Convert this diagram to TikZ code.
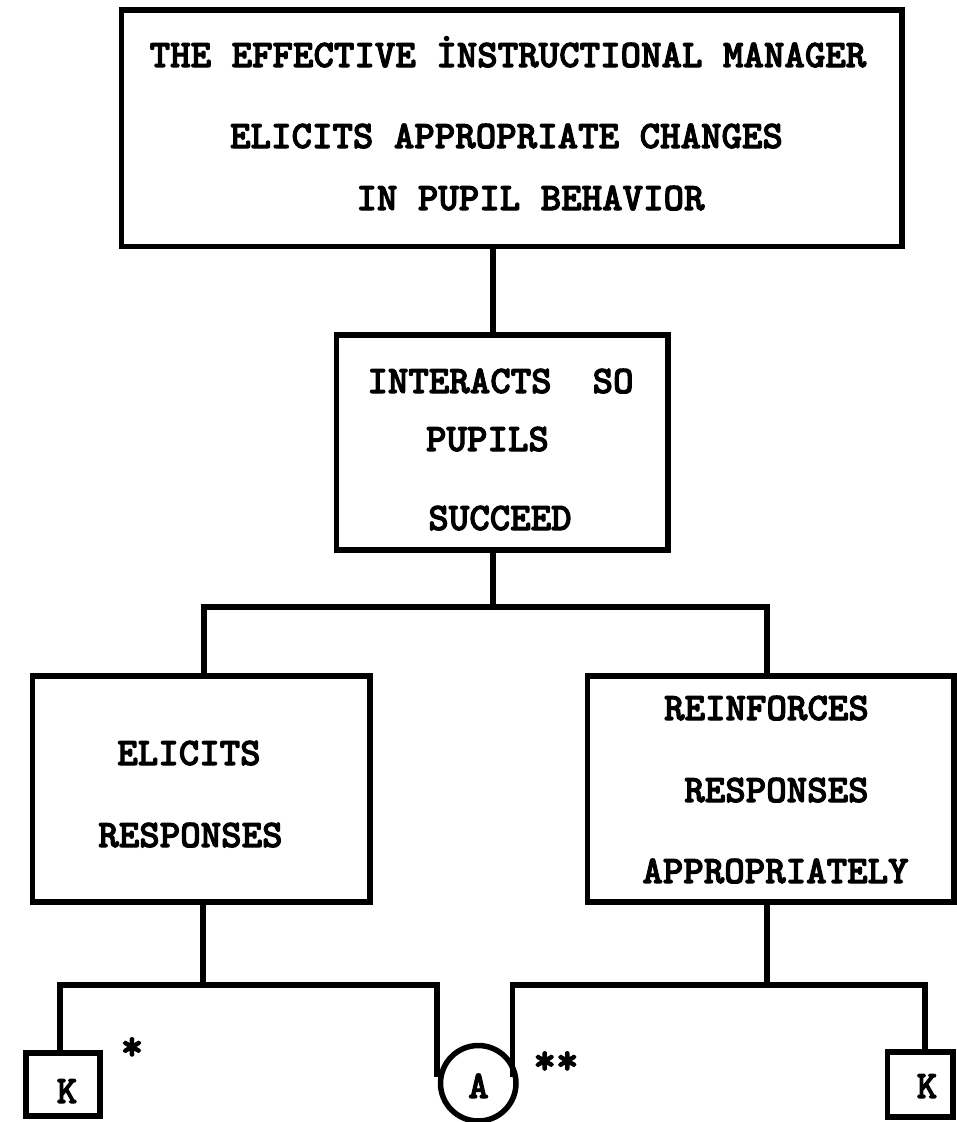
\documentclass[tikz,border=0pt]{standalone}
\usepackage{fontspec}
\newfontfamily\tw{lmmonolt10-bold.otf}[FakeBold=2.6]
\begin{document}
\begin{tikzpicture}[x=1pt,y=-1pt,
  line width=5.5pt, line join=miter,
  box/.style={draw, rectangle, line width=5.5pt, inner sep=0pt, outer sep=0pt},
  txt/.style={font=\tw\fontsize{39}{39}\selectfont, anchor=base, inner sep=0pt},
  star/.style={font=\tw\fontsize{43}{43}\selectfont, anchor=base, inner sep=0pt}]
\useasboundingbox (0,0) rectangle (957,1122);
% boxes
\node[box, minimum width=780.5pt, minimum height=236.5pt] (top) at (511.75,128.25) {};
\node[box, minimum width=331.5pt, minimum height=215pt] (mid) at (502.25,442.5) {};
\node[box, minimum width=337.5pt, minimum height=226pt] (eli) at (201.25,789) {};
\node[box, minimum width=366.5pt, minimum height=226pt] (rein) at (770.75,789) {};
\node[box, minimum width=74pt, minimum height=63pt] (kL) at (63,1084.5) {};
\node[box, minimum width=65.5pt, minimum height=65pt] (kR) at (920.25,1084.5) {};
\node[draw, circle, line width=5.5pt, minimum size=75.5pt, inner sep=0pt, outer sep=0pt] (cA) at (478.25,1083.25) {};
% texts
\node[txt] (t1) at (508,67) {THE EFFECTIVE İNSTRUCTIONAL MANAGER};
\node[txt] (t2) at (506.5,148) {ELICITS APPROPRIATE CHANGES};
\node[txt] (t3) at (530.5,210) {IN PUPIL BEHAVIOR};
\node[txt] (m1) at (500.5,393) {INTERACTS~~SO};
\node[txt] (m2) at (487.5,451) {PUPILS};
\node[txt] (m3) at (500,530) {SUCCEED};
\node[txt] (l1) at (189,765) {ELICITS};
\node[txt] (l2) at (190.5,847) {RESPONSES};
\node[txt] (r1) at (766.5,720) {REINFORCES};
\node[txt] (r2) at (776.5,802) {RESPONSES};
\node[txt] (r3) at (775.5,883) {APPROPRIATELY};
\node[txt] (kLt) at (67,1103) {K};
\node[txt] (kRt) at (927,1098) {K};
\node[txt] (cAt) at (478.5,1098) {A};
\node[star] (s1) at (132,1060) {*};
\node[star] (s2) at (556,1074) {**};
% junction coordinates
\coordinate (c1) at (493,607);
\coordinate (bL) at (204,607);
\coordinate (bR) at (767,607);
\coordinate (jL) at (203,985);
\coordinate (jR) at (767,985);
\coordinate (bl1) at (60,985);
\coordinate (bl2) at (437,985);
\coordinate (br1) at (512.5,985);
\coordinate (br2) at (925,985);
% connectors
\draw (c1 |- top.south) -- (c1 |- mid.north);
\draw (c1 |- mid.south) -- (c1);
\draw (bL |- eli.north) -- (bL) -- (bR) -- (bR |- rein.north);
\draw (jL |- eli.south) -- (jL);
\draw (jR |- rein.south) -- (jR);
\draw (bl1 |- kL.north) -- (bl1) -- (bl2) -- (bl2 |- cA.170);
\draw (br1 |- cA.10) -- (br1) -- (br2) -- (br2 |- kR.north);
\end{tikzpicture}
\end{document}
